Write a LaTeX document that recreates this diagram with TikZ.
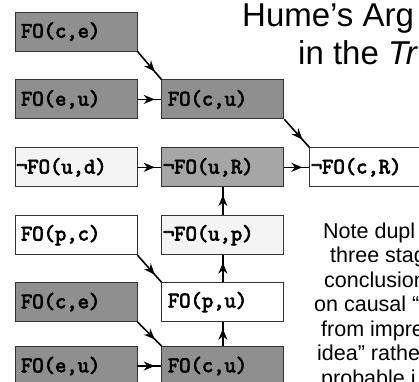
\documentclass[tikz,border=0pt]{standalone}
\usepackage{fontspec}
\setmainfont{Liberation Sans}
\newfontfamily\boxfont{Latin Modern Mono}[FakeBold=3.5]
\usepackage{tikz}
\usetikzlibrary{arrows.meta,positioning,decorations.markings}

\definecolor{boxdark}{HTML}{8F8F8F}
\definecolor{boxmid}{HTML}{A6A6A6}
\definecolor{boxlight}{HTML}{F4F4F4}
\newcommand{\notfo}{\hspace*{-5pt}¬FO}

\begin{document}
\begin{tikzpicture}[x=1pt,y=-1pt,
    box/.style={draw=black!80,line width=0.9pt,text width=110pt,inner xsep=6pt,inner ysep=0pt,
      minimum height=39pt,align=left,font=\fontsize{22}{22}\selectfont\boxfont},
    darkbox/.style={box,fill=boxdark},
    midbox/.style={box,fill=boxmid},
    lightbox/.style={box,fill=boxlight},
    whitebox/.style={box,fill=white},
    link/.style={line width=1.6pt,postaction={decorate},
      decoration={markings,mark=at position 0.72 with {\arrow{Stealth[length=11pt,width=9pt]}}}},
    note/.style={anchor=base west,inner sep=0pt,font=\fontsize{21.5}{24}\selectfont}]
  \useasboundingbox (0,0) rectangle (419,381);
  \clip (0,0) rectangle (419,381);

  % title
  \node[anchor=base west,inner sep=0pt,font=\fontsize{33}{38}\selectfont] (title1) at (242,26) {Hume’s Arg};
  \node[anchor=base west,inner sep=0pt,font=\fontsize{33}{38}\selectfont] (title2) at (298,64) {in the \textit{Tr}};

  % boxes
  \node[darkbox] (ce1) at (76,31.5) {FO(c,e)};
  \node[darkbox] (eu1) [below=28pt of ce1] {FO(e,u)};
  \node[darkbox] (cu1) [right=24pt of eu1] {FO(c,u)};
  \node[lightbox] (ud) [below=28pt of eu1] {\notfo(u,d)};
  \node[midbox] (uR) [right=24pt of ud] {\notfo(u,R)};
  \node[whitebox] (cR) [right=25pt of uR] {\notfo(c,R)};
  \node[whitebox] (pc) [below=28pt of ud] {FO(p,c)};
  \node[lightbox] (up) [right=24pt of pc] {\notfo(u,p)};
  \node[darkbox] (ce2) [below=27pt of pc] {FO(c,e)};
  \node[whitebox] (pu) [right=24pt of ce2] {FO(p,u)};
  \node[darkbox] (eu2) [below=24pt of ce2] {FO(e,u)};
  \node[darkbox] (cu2) [right=24pt of eu2] {FO(c,u)};

  % connectors
  \draw[link] (ce1.south east) -- (cu1.north west);
  \draw[link] (eu1) -- (cu1);
  \draw[link] (cu1.south east) -- (cR.north west);
  \draw[link] (ud) -- (uR);
  \draw[link] (uR) -- (cR);
  \draw[link] (up) -- (uR);
  \draw[link] (pu) -- (up);
  \draw[link] (cu2) -- (pu);
  \draw[link] (pc.south east) -- (pu.north west);
  \draw[link] (ce2.south east) -- (cu2.north west);
  \draw[link] (eu2) -- (cu2);

  % note
  \node[note] (n1) at (323,238) {Note dupl};
  \node[note] (n2) at (330,262.5) {three stag};
  \node[note] (n3) at (324,287) {conclusion};
  \node[note] (n4) at (314,311.5) {on causal “};
  \node[note] (n5) at (321,336) {from impre};
  \node[note] (n6) at (317,360.5) {idea” rathe};
  \node[note] (n7) at (321,385) {probable i};
\end{tikzpicture}
\end{document}
